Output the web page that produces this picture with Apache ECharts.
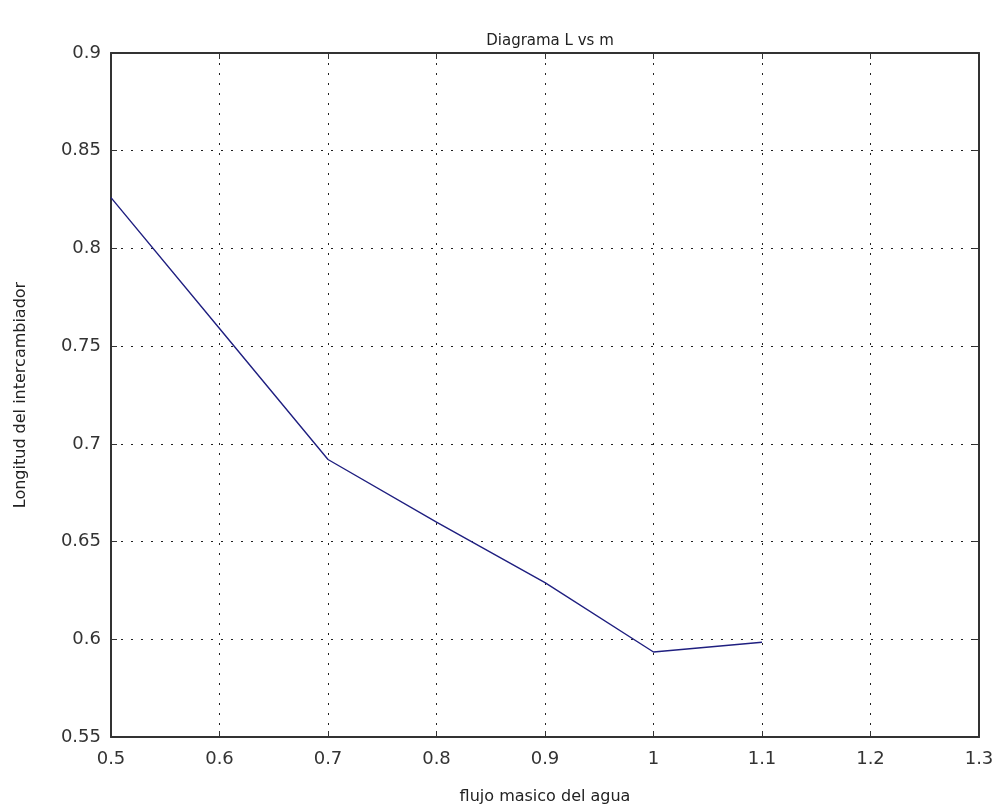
<!DOCTYPE html>
<html>
<head>
<meta charset="utf-8">
<script src="https://cdn.jsdelivr.net/npm/echarts@6/dist/echarts.min.js"></script>
<style>
  html, body { margin: 0; padding: 0; background: #fff; }
  #main { width: 1001px; height: 811px; }
</style>
</head>
<body>
<div id="main"></div>
<script>
// flujo masico del agua vs longitud del intercambiador
const flujo = [0.5, 0.6, 0.7, 0.8, 0.9, 1.0, 1.1];
const longitud = [0.826, 0.759, 0.692, 0.660, 0.629, 0.5935, 0.5985];

const chart = echarts.init(document.getElementById('main'));
const fontFam = 'DejaVu Sans, sans-serif';
const axisCol = '#333';

const boxAxis = {
    axisLine: {show: true, lineStyle: {color: axisCol, width: 2}},
    axisTick: {show: true, inside: true, length: 6, lineStyle: {color: axisCol}},
    axisLabel: {show: false},
    splitLine: {show: false}
};

const option = {
    backgroundColor: '#fff',
    animation: false,
    title: {
        text: 'Diagrama L vs m',
        left: 545,
        textAlign: 'center',
        top: 29,
        textStyle: {fontFamily: fontFam, fontSize: 15, fontWeight: 'normal', color: '#222'}
    },
    grid: {left: 111, top: 53, right: 22, bottom: 74},
    xAxis: [{
        type: 'value',
        min: 0.5, max: 1.3, interval: 0.1,
        name: 'flujo masico del agua',
        nameLocation: 'middle',
        nameGap: 52,
        nameTextStyle: {fontFamily: fontFam, fontSize: 16, color: '#222'},
        axisLine: {show: true, lineStyle: {color: axisCol, width: 2}},
        axisTick: {show: true, inside: true, length: 6, lineStyle: {color: axisCol}},
        axisLabel: {fontFamily: fontFam, fontSize: 18, color: '#333', margin: 13,
            formatter: v => String(Math.round(v * 10) / 10)},
        splitLine: {show: true, lineStyle: {color: '#222', type: [2, 8], width: 1}}
    }, Object.assign({type: 'value', position: 'top', min: 0.5, max: 1.3, interval: 0.1}, boxAxis)],
    yAxis: [{
        type: 'value',
        min: 0.55, max: 0.9, interval: 0.05,
        name: 'Longitud del intercambiador',
        nameLocation: 'middle',
        nameGap: 82,
        nameTextStyle: {fontFamily: fontFam, fontSize: 16, color: '#222'},
        axisLine: {show: true, lineStyle: {color: axisCol, width: 2}},
        axisTick: {show: true, inside: true, length: 6, lineStyle: {color: axisCol}},
        axisLabel: {fontFamily: fontFam, fontSize: 18, color: '#333', margin: 10,
            formatter: v => String(Math.round(v * 100) / 100)},
        splitLine: {show: true, lineStyle: {color: '#222', type: [2, 8], width: 1}}
    }, Object.assign({type: 'value', position: 'right', min: 0.55, max: 0.9, interval: 0.05}, boxAxis)],
    series: [{
        type: 'line',
        data: flujo.map((x, i) => [x, longitud[i]]),
        showSymbol: false,
        lineStyle: {color: '#1f1f80', width: 1.4}
    }]
};

chart.setOption(option);
</script>
</body>
</html>
